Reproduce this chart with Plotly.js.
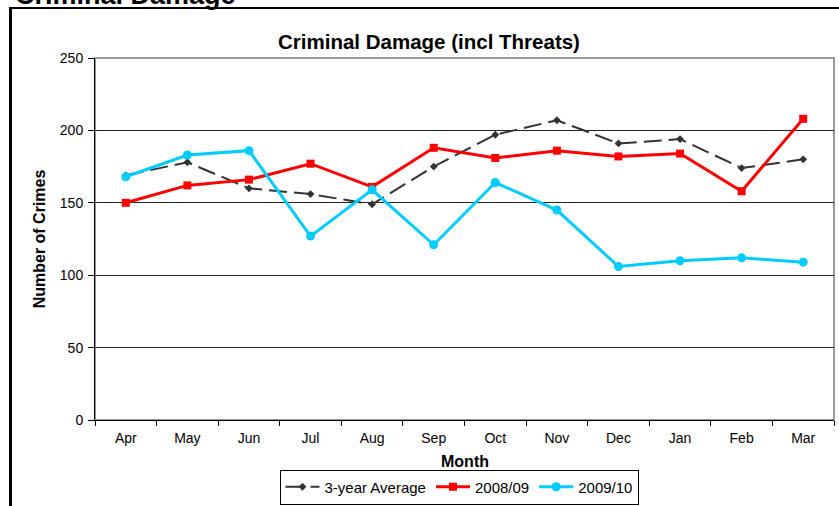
<!DOCTYPE html>
<html>
<head>
<meta charset="utf-8">
<script src="https://cdn.plot.ly/plotly-3.0.1.min.js"></script>
<style>html,body{margin:0;padding:0;background:#fff;}#chart{width:839px;height:506px;}</style>
</head>
<body>
<div id="chart"></div>
<script>
const months = ["Apr","May","Jun","Jul","Aug","Sep","Oct","Nov","Dec","Jan","Feb","Mar"];
const avg3yr = [169,178,160,156,149,175,197,207,191,194,174,180];
const y0809  = [150,162,166,177,161,188,181,186,182,184,158,208];
const y0910  = [168,183,186,127,159,121,164,145,106,110,112,109];
const yTicks = [0,50,100,150,200,250];

const F = "Liberation Sans, Arial, sans-serif";
const traces = [
  {x: months, y: avg3yr, name: "3-year Average", type: "scatter", mode: "lines+markers",
   line: {color: "#333333", width: 2, dash: "18px,7px"},
   marker: {symbol: "diamond", size: 6, color: "#333333"}},
  {x: months, y: y0809, name: "2008/09", type: "scatter", mode: "lines+markers",
   line: {color: "#ff0000", width: 3},
   marker: {symbol: "square", size: 8, color: "#ff0000"}},
  {x: months, y: y0910, name: "2009/10", type: "scatter", mode: "lines+markers",
   line: {color: "#00ccff", width: 3},
   marker: {symbol: "circle", size: 9, color: "#00ccff"}}
];

const px = p => (p - 95) / 739;
const py = p => (420 - p) / 362;

const layout = {
  width: 839, height: 506,
  margin: {l: 95, r: 5, t: 58, b: 86, pad: 0},
  paper_bgcolor: "#fff", plot_bgcolor: "#fff",
  font: {family: F, size: 12, color: "#000"},
  title: {text: "<b>Criminal Damage (incl Threats)</b>", font: {family: F, size: 20.5, color: "#000"},
          x: 429/839, xref: "container", xanchor: "center", y: 1 - 42/506, yref: "container", yanchor: "middle"},
  xaxis: {type: "category", range: [-0.5, 11.5], showline: true, linecolor: "#000", linewidth: 1,
          ticks: "outside", tickson: "boundaries", ticklen: 5, tickcolor: "#000", showgrid: false,
          tickfont: {family: F, size: 14}, zeroline: false, ticklabelstandoff: 5},
  yaxis: {range: [0, 250], tickvals: yTicks, showline: true, linecolor: "#000", linewidth: 1,
          ticks: "outside", ticklen: 6, tickcolor: "#000", showgrid: true, gridcolor: "#222", gridwidth: 1,
          zeroline: false, tickfont: {family: F, size: 14}, ticklabelstandoff: 2,
          title: {text: "<b>Number of Crimes</b>", font: {family: F, size: 16}, standoff: 10}},
  showlegend: true,
  legend: {orientation: "h", x: 459/839, xref: "container", xanchor: "center", y: 1 - 487/506, yref: "container", yanchor: "middle",
           bordercolor: "#000", borderwidth: 1, font: {family: F, size: 15}, tracegroupgap: 0, itemwidth: 34,
           bgcolor: "rgba(255,255,255,0)"},
  shapes: [
    {type: "rect", xref: "paper", yref: "paper", x0: 0, x1: 1, y0: 0, y1: 1, line: {color: "#999", width: 2}, layer: "below"},
    {type: "line", xref: "paper", yref: "paper", x0: px(10.5), x1: px(10.5), y0: py(7), y1: py(510), line: {color: "#000", width: 3}},
    {type: "line", xref: "paper", yref: "paper", x0: px(9), x1: px(845), y0: py(8), y1: py(8), line: {color: "#000", width: 2}}
  ],
  annotations: [
    {text: "<b>Criminal Damage</b>", xref: "paper", yref: "paper", x: px(13), y: py(-5), xanchor: "left", yanchor: "middle",
     showarrow: false, font: {family: F, size: 27, color: "#000"}},
    {text: "<b>Month</b>", xref: "paper", yref: "paper", x: px(465), y: py(461), xanchor: "center", yanchor: "middle",
     showarrow: false, font: {family: F, size: 16, color: "#000"}}
  ]
};

Plotly.newPlot("chart", traces, layout, {displayModeBar: false, staticPlot: true});
</script>
</body>
</html>
